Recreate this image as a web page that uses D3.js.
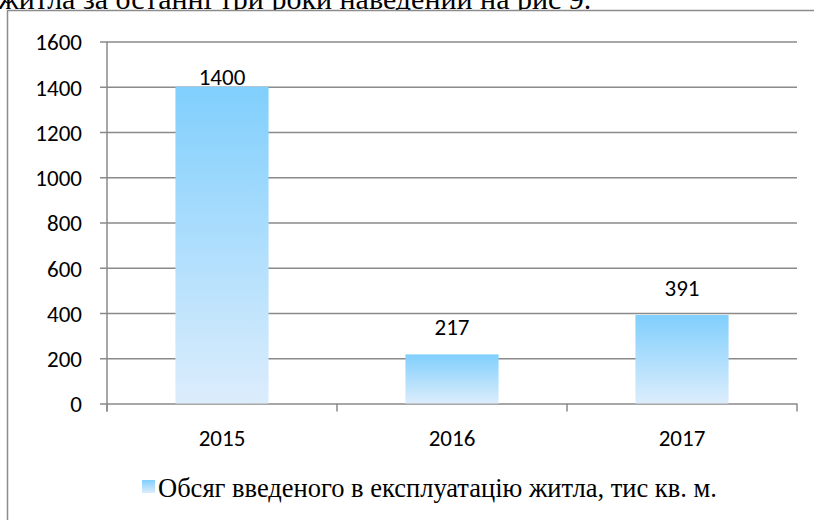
<!DOCTYPE html>
<html>
<head>
<meta charset="utf-8">
<script src="https://cdn.jsdelivr.net/npm/d3@7"></script>
<style>
  body { margin: 0; background: #fff; }
  svg { display: block; }
</style>
</head>
<body>
<div id="chart"></div>
<script>
// data
const years = ["2015", "2016", "2017"];
const volumes = [1400, 217, 391];
const yTicks = [0, 200, 400, 600, 800, 1000, 1200, 1400, 1600];
const seriesName = "Обсяг введеного в експлуатацію житла, тис кв. м.";
const captionText = "житла за останні три роки наведений на рис 9.";

const W = 814, H = 520;
const plot = { left: 107, right: 797, top: 41.5, bottom: 403.5 };
const gridColor = "#8a8a8a";
const numFont = "Carlito, Lato, 'Open Sans', sans-serif";
const serifFont = "'Liberation Serif', Tinos, 'Times New Roman', 'DejaVu Serif', serif";

const svg = d3.select("#chart").append("svg")
    .attr("width", W)
    .attr("height", H);

// gradient for the bars
const defs = svg.append("defs");
const grad = defs.append("linearGradient")
    .attr("id", "barGrad")
    .attr("x1", 0).attr("y1", 0).attr("x2", 0).attr("y2", 1);
grad.append("stop").attr("offset", "0%").attr("stop-color", "#80cffd");
grad.append("stop").attr("offset", "100%").attr("stop-color", "#dcedfc");

// text of the page above the chart (cut off in the picture)
svg.append("text")
    .attr("x", -2)
    .attr("y", 9)
    .style("font-family", serifFont)
    .style("font-size", "30px")
    .attr("fill", "#000")
    .text(captionText);

// chart frame (runs out of the picture on the right and bottom)
svg.append("rect")
    .attr("x", 7.5)
    .attr("y", 10.5)
    .attr("width", W + 20)
    .attr("height", H + 20)
    .attr("fill", "#fff")
    .attr("stroke", "#8c8c8c")
    .attr("stroke-width", 1.5);

// scales
const x = d3.scaleBand()
    .domain(years)
    .range([plot.left, plot.right])
    .padding(0);

const y = d3.scaleLinear()
    .domain([0, 1600])
    .range([plot.bottom, plot.top]);

// gridlines + y tick marks
const yAxis = svg.append("g")
    .attr("transform", `translate(${plot.left},0)`)
    .call(d3.axisLeft(y).tickValues(yTicks).tickSize(7).tickPadding(18).tickFormat(d3.format("d")));
yAxis.select(".domain").remove();
yAxis.selectAll(".tick line")
    .attr("x1", plot.right - plot.left)
    .attr("x2", -7)
    .attr("stroke", gridColor)
    .attr("stroke-width", 1.5);
yAxis.selectAll(".tick text")
    .style("font-family", numFont)
    .style("font-size", "23px")
    .attr("fill", "#000")
    .attr("dy", "0.36em");

// vertical axis line
svg.append("line")
    .attr("x1", plot.left).attr("x2", plot.left)
    .attr("y1", plot.top).attr("y2", plot.bottom + 8)
    .attr("stroke", gridColor)
    .attr("stroke-width", 1.5);

// x axis: ticks at category boundaries
const bounds = years.map(d => x(d)).concat([x.range()[1]]);
svg.append("g")
    .selectAll("line")
    .data(bounds)
    .join("line")
    .attr("x1", d => d).attr("x2", d => d)
    .attr("y1", plot.bottom).attr("y2", plot.bottom + 8)
    .attr("stroke", gridColor)
    .attr("stroke-width", 1.5);

svg.append("g")
    .selectAll("text")
    .data(years)
    .join("text")
    .attr("x", d => x(d) + x.bandwidth() / 2)
    .attr("y", 446)
    .attr("text-anchor", "middle")
    .style("font-family", numFont)
    .style("font-size", "23px")
    .attr("fill", "#000")
    .text(d => d);

// bars
const barW = x.bandwidth() * 0.405;
const rows = years.map((d, i) => ({ year: d, value: volumes[i] }));

svg.append("g")
    .selectAll("rect")
    .data(rows)
    .join("rect")
    .attr("x", d => x(d.year) + (x.bandwidth() - barW) / 2)
    .attr("y", d => y(d.value))
    .attr("width", barW)
    .attr("height", d => y(0) - y(d.value))
    .attr("fill", "url(#barGrad)");

// value labels
svg.append("g")
    .selectAll("text")
    .data(rows)
    .join("text")
    .attr("x", d => x(d.year) + x.bandwidth() / 2)
    .attr("y", d => y(d.value) - (d.value > 1000 ? 2 : 19))
    .attr("text-anchor", "middle")
    .style("font-family", numFont)
    .style("font-size", "23px")
    .attr("fill", "#000")
    .text(d => d.value);

// legend
const legend = svg.append("g");
legend.append("rect")
    .attr("x", 142)
    .attr("y", 480)
    .attr("width", 13)
    .attr("height", 13)
    .attr("fill", "url(#barGrad)");
legend.append("text")
    .attr("x", 158)
    .attr("y", 497)
    .style("font-family", serifFont)
    .style("font-size", "26.5px")
    .attr("fill", "#000")
    .text(seriesName);
</script>
</body>
</html>
